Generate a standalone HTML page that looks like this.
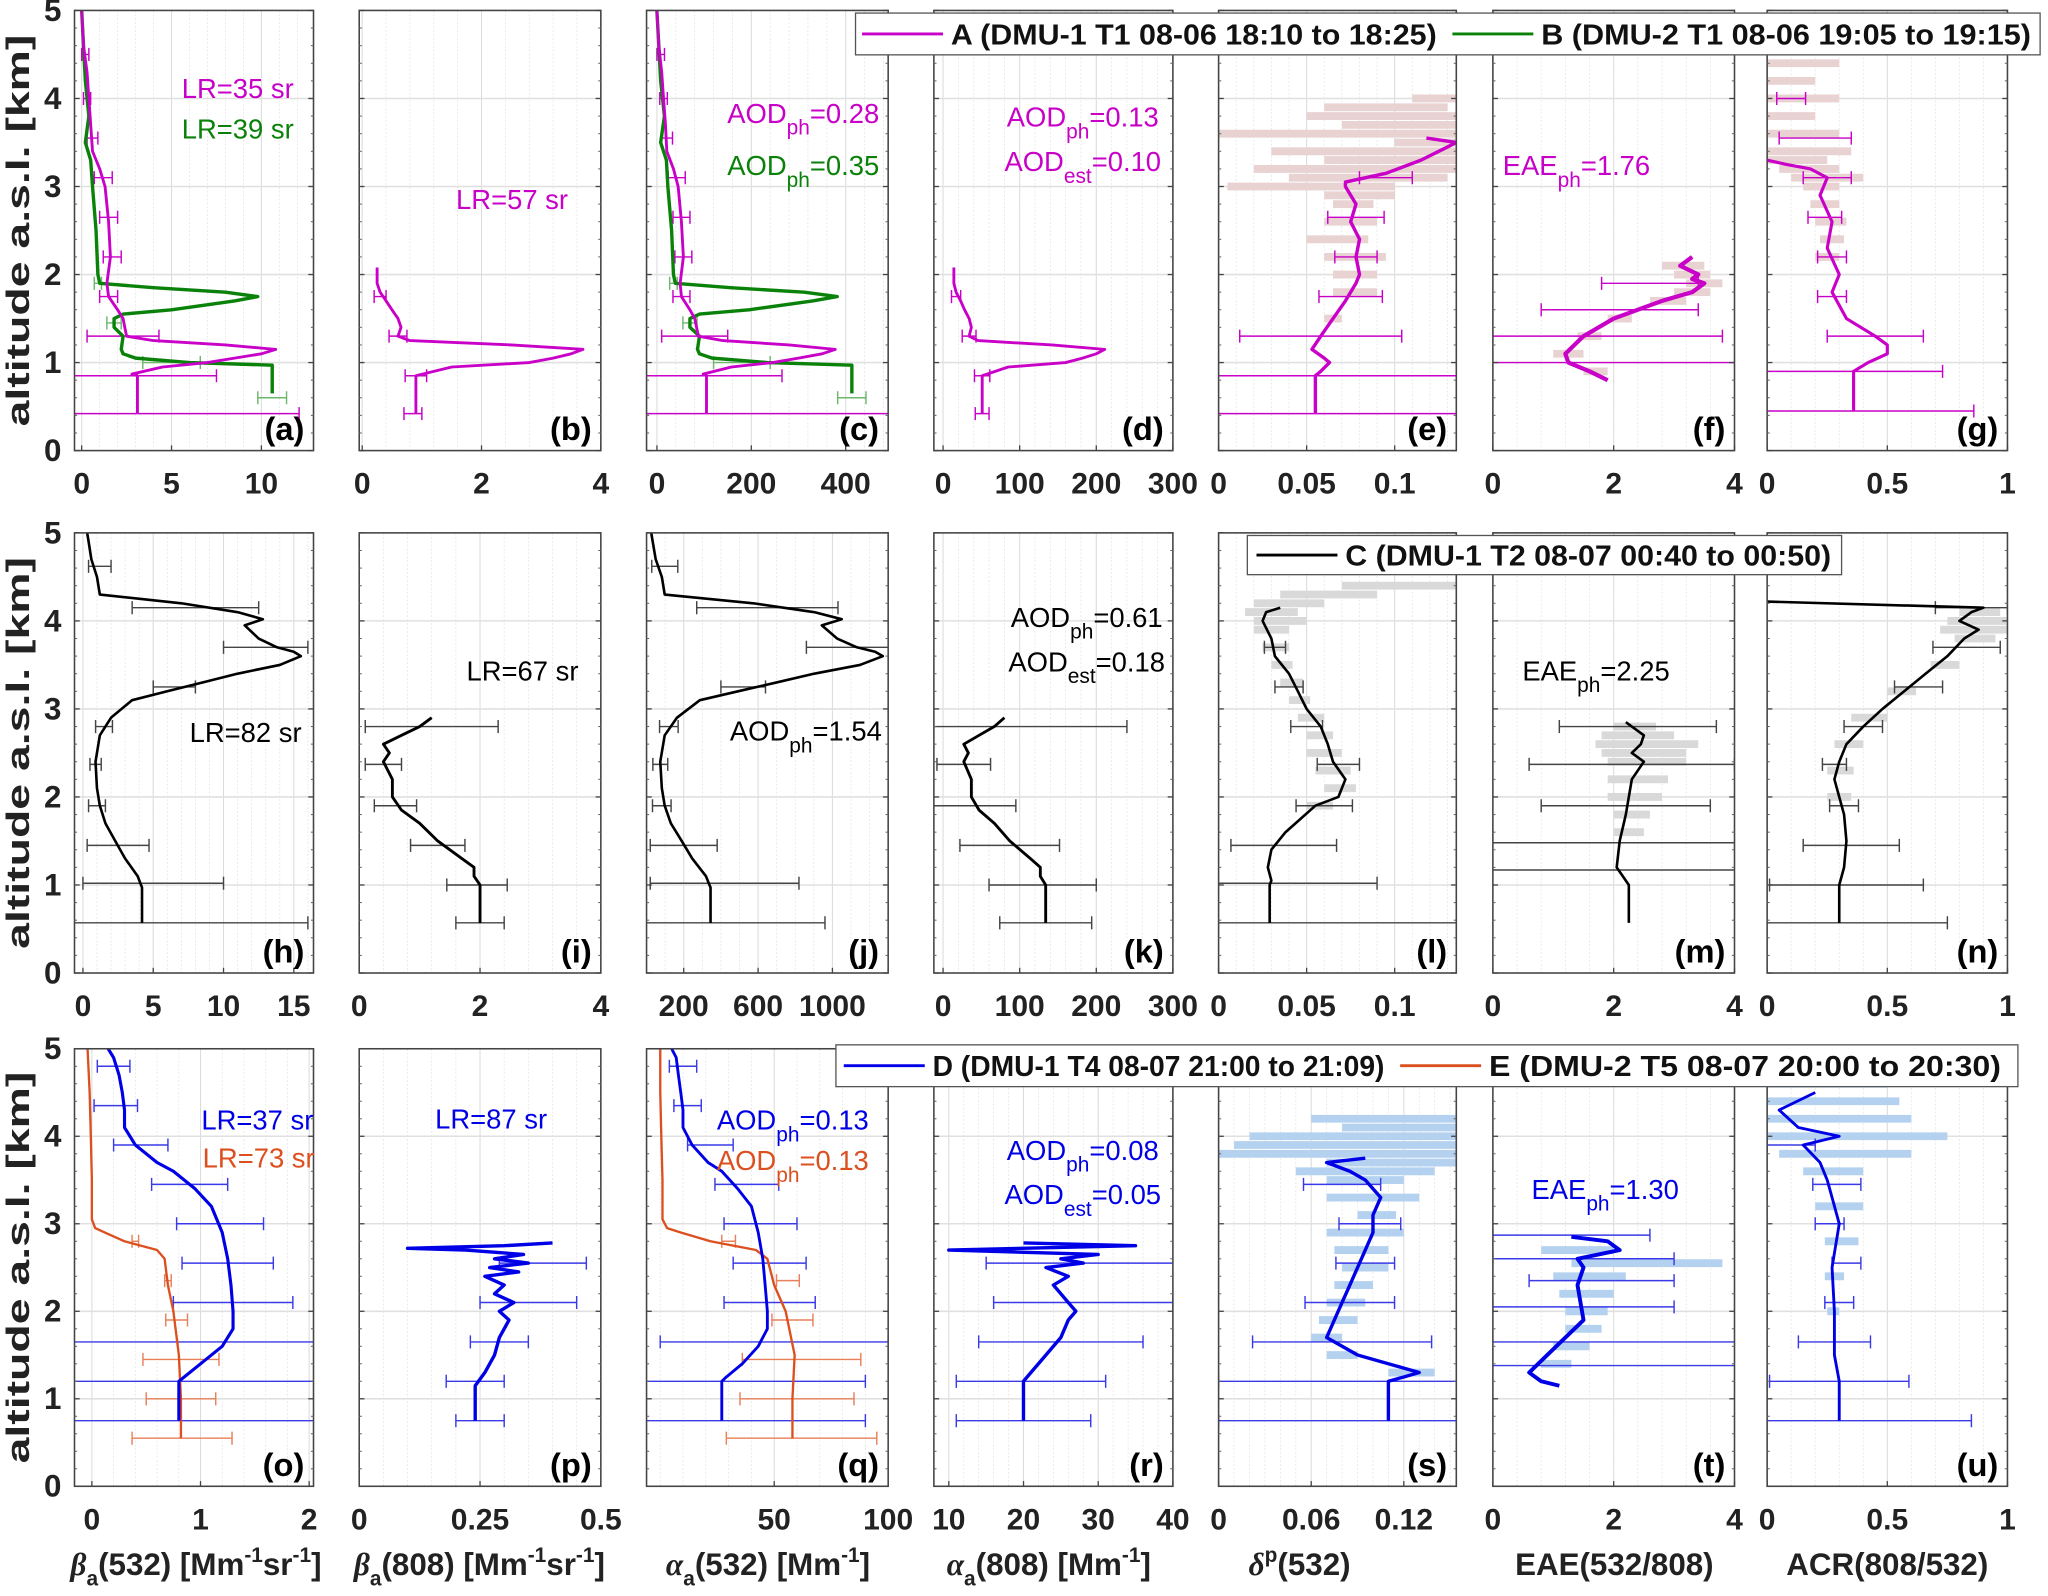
<!DOCTYPE html>
<html><head><meta charset="utf-8"><title>Lidar profiles</title>
<style>
html,body{margin:0;padding:0;background:#fff;}
svg{display:block;font-family:"Liberation Sans Narrow","Liberation Sans",Arial,sans-serif;}
</style></head>
<body>
<svg id="fig" width="2048" height="1596" viewBox="0 0 1568 1222" xmlns="http://www.w3.org/2000/svg">
<rect width="1568" height="1222" fill="#fff"/>
<g id="layer"></g>
</svg>
<script>
// ---------------- DATA ----------------
// Row 1: A (magenta) and B (green)
const A_a_alt=[0.42,0.85,0.87,0.95,1.0,1.05,1.1,1.15,1.2,1.25,1.3,1.4,1.5,1.6,1.75,1.9,2.2,2.6,3.0,3.2,3.4,3.7,4.0,4.3,4.6,5.0];
const A_a_val=[3.1,3.1,2.8,4.5,7,8.5,10,10.8,8,4,2.5,2.4,2.3,2.0,1.5,1.4,1.6,1.5,1.3,1.0,0.6,0.5,0.4,0.3,0.1,0.0];
const B_a_alt=[0.65,0.97,1.0,1.05,1.1,1.15,1.3,1.4,1.5,1.55,1.6,1.7,1.75,1.8,1.85,1.9,2.0,2.5,3.0,3.3,3.5,3.8,4.2,4.6,5.0];
const B_a_val=[10.6,10.6,6,3,2.3,2.2,2.3,1.8,1.8,2.3,5,8.5,9.8,8,4,1.0,0.9,0.8,0.6,0.5,0.2,0.4,0.2,0.1,0.0];
const A_b_alt=[0.42,0.85,0.95,1.0,1.05,1.1,1.15,1.2,1.25,1.3,1.4,1.5,1.6,1.7,1.8,1.9,2.0,2.08];
const A_b_val=[0.9,0.9,1.5,2.8,3.2,3.5,3.7,2.5,0.8,0.6,0.65,0.6,0.5,0.4,0.3,0.25,0.25,0.25];
const A_c_alt=A_a_alt;
const A_c_val=[105,105,98,158,245,300,350,378,280,140,88,84,80,70,52,49,56,52,45,35,21,18,14,10,4,0];
const B_c_alt=B_a_alt;
const B_c_val=[413,413,234,117,90,86,90,70,70,90,195,330,382,312,156,39,35,31,23,20,8,16,8,4,0];
const A_d_alt=A_b_alt;
const A_d_val=[51,51,85,160,182,200,211,142,46,34,37,34,28,23,17,14,14,14];
const A_e_alt=[0.42,0.85,0.9,1.0,1.05,1.15,1.3,1.5,1.7,1.9,2.0,2.2,2.4,2.6,2.8,3.0,3.05,3.15,3.3,3.45,3.5,3.55];
const A_e_val=[0.055,0.055,0.058,0.063,0.06,0.053,0.058,0.065,0.072,0.078,0.08,0.078,0.08,0.075,0.078,0.072,0.072,0.095,0.115,0.13,0.135,0.118];
const A_f_alt=[0.8,0.9,1.0,1.1,1.3,1.5,1.7,1.8,1.9,1.95,2.0,2.1,2.2];
const A_f_val=[1.9,1.6,1.25,1.2,1.5,2.0,2.8,3.3,3.5,3.3,3.4,3.1,3.3];
const A_g_alt=[0.45,0.9,1.0,1.1,1.2,1.3,1.5,1.8,2.0,2.3,2.6,2.9,3.1,3.2,3.25,3.3];
const A_g_val=[0.36,0.36,0.42,0.5,0.5,0.45,0.33,0.27,0.3,0.25,0.27,0.22,0.25,0.18,0.08,0.0];
// Row 2: C (black)
const C_h_alt=[0.57,0.97,1.1,1.3,1.5,1.7,1.9,2.1,2.4,2.7,2.9,3.1,3.2,3.3,3.4,3.5,3.6,3.65,3.7,3.8,3.95,4.02,4.1,4.2,4.3,4.5,4.7,4.9,5];
const C_h_val=[4.2,4.2,3.9,3.0,2.3,1.6,1.2,1.0,0.9,1.2,2.0,3.5,6,8.5,11,14,15.5,15,13.8,12.5,11.5,12.8,11,7,1.2,1.0,0.6,0.4,0.3];
const C_i_alt=[0.57,1.0,1.1,1.2,1.3,1.5,1.7,1.85,2.0,2.2,2.4,2.5,2.6,2.7,2.8,2.9];
const C_i_val=[2.0,2.0,1.9,1.9,1.7,1.3,1.0,0.7,0.55,0.55,0.4,0.5,0.4,0.7,1.0,1.2];
const C_j_alt=C_h_alt;
const C_j_val=[344,344,320,246,189,131,98,82,74,98,164,287,492,697,902,1148,1271,1230,1131,1025,943,1050,902,574,98,82,49,33,25];
const C_k_alt=C_i_alt;
const C_k_val=[134,134,127,127,114,87,67,47,37,37,27,33,27,47,67,80];
const C_l_alt=[0.57,1.0,1.05,1.2,1.4,1.6,1.9,2.0,2.2,2.4,2.6,2.8,3.0,3.2,3.4,3.6,3.8,4.0,4.1,4.15];
const C_l_val=[0.029,0.029,0.03,0.028,0.03,0.038,0.055,0.068,0.072,0.065,0.062,0.058,0.05,0.045,0.04,0.032,0.03,0.025,0.027,0.035];
const C_m_alt=[0.57,1.0,1.2,1.5,1.8,2.0,2.2,2.4,2.5,2.6,2.7,2.8,2.85];
const C_m_val=[2.25,2.25,2.05,2.1,2.2,2.25,2.3,2.5,2.3,2.45,2.5,2.3,2.2];
const C_n_alt=[0.57,1.0,1.2,1.5,1.8,2.0,2.2,2.4,2.6,2.8,3.0,3.2,3.4,3.6,3.8,3.9,4.0,4.1,4.15,4.22];
const C_n_val=[0.3,0.3,0.32,0.33,0.32,0.3,0.28,0.3,0.33,0.4,0.48,0.57,0.66,0.75,0.82,0.88,0.8,0.85,0.9,0.0];
// Row 3: D (blue) and E (orange)
const D_o_alt=[0.75,1.2,1.25,1.4,1.6,1.8,2.0,2.3,2.6,2.9,3.2,3.4,3.6,3.7,3.9,4.1,4.3,4.5,4.7,4.9,5.0];
const D_o_val=[0.8,0.8,0.85,1.0,1.2,1.3,1.3,1.28,1.25,1.2,1.1,0.95,0.75,0.6,0.4,0.3,0.3,0.28,0.25,0.2,0.15];
const E_o_alt=[0.55,1.0,1.5,2.0,2.3,2.6,2.7,2.8,2.9,2.95,3.05,3.5,4.0,4.5,5.0];
const E_o_val=[0.82,0.82,0.8,0.75,0.7,0.67,0.6,0.3,0.12,0.03,0.0,0.0,-0.01,-0.02,-0.04];
const D_p_alt=[0.75,1.15,1.3,1.5,1.7,1.9,2.0,2.1,2.2,2.3,2.4,2.45,2.5,2.55,2.6,2.65,2.7,2.72,2.75,2.78];
const D_p_val=[0.24,0.24,0.26,0.28,0.29,0.31,0.29,0.32,0.28,0.30,0.26,0.33,0.27,0.35,0.28,0.34,0.22,0.10,0.30,0.40];
const D_q_alt=D_o_alt;
const D_q_val=[27,27,29,36,43,47,47,46,45,43,40,34,27,21,14,10,10,9,8,7,5];
const E_q_alt=E_o_alt;
const E_q_val=[58,58,59,55,50,47,42,22,9,3,1,1,0.5,0,0];
const D_r_alt=[0.75,1.2,1.3,1.5,1.7,1.9,2.0,2.1,2.2,2.3,2.4,2.5,2.55,2.6,2.65,2.7,2.75,2.78];
const D_r_val=[20,20,21,23,25,26,27,26,25,24,26,23,28,25,30,10,35,20];
const D_s_alt=[0.75,1.2,1.25,1.3,1.35,1.5,1.7,1.9,2.1,2.3,2.5,2.7,2.9,3.1,3.3,3.5,3.6,3.7,3.75];
const D_s_val=[0.11,0.11,0.12,0.13,0.12,0.09,0.07,0.075,0.08,0.085,0.09,0.095,0.1,0.1,0.105,0.095,0.085,0.07,0.095];
const D_t_alt=[1.15,1.2,1.3,1.5,1.7,1.9,2.1,2.3,2.5,2.6,2.7,2.8,2.85];
const D_t_val=[1.1,0.8,0.6,0.9,1.2,1.5,1.45,1.4,1.5,1.4,2.1,1.9,1.3];
const D_u_alt=[0.75,1.2,1.5,2.0,2.5,3.0,3.3,3.5,3.7,3.9,4.0,4.1,4.3,4.5];
const D_u_val=[0.3,0.3,0.28,0.28,0.27,0.3,0.27,0.25,0.22,0.15,0.3,0.13,0.05,0.2];

// Error bars: altitude, centre, half-width
const EB_a_A_alt=[0.42,0.85,1.3,1.75,2.2,2.65,3.1,3.55,4.0,4.5];
const EB_a_A_c=[3.1,3.0,2.3,1.5,1.7,1.5,1.2,0.6,0.3,0.2];
const EB_a_A_h=[9,4.5,2.0,0.5,0.5,0.5,0.5,0.3,0.2,0.2];
const EB_a_B_alt=[0.6,1.0,1.45,1.9];
const EB_a_B_c=[10.6,5.0,1.8,0.9];
const EB_a_B_h=[0.8,1.6,0.4,0.2];
const EB_b_A_alt=[0.42,0.85,1.3,1.75];
const EB_b_A_c=[0.85,0.9,0.6,0.3];
const EB_b_A_h=[0.15,0.18,0.15,0.1];
const EB_c_A_alt=[0.42,0.85,1.3,1.75,2.2,2.65,3.1,3.55,4.0,4.5];
const EB_c_A_c=[105,105,80,52,56,52,42,21,14,8];
const EB_c_A_h=[400,160,70,18,18,18,18,12,8,8];
const EB_c_B_alt=[0.6,1.0,1.45,1.9];
const EB_c_B_c=[413,180,70,35];
const EB_c_B_h=[30,60,15,8];
const EB_d_A_alt=[0.42,0.85,1.3,1.75];
const EB_d_A_c=[51,51,34,17];
const EB_d_A_h=[9,10,9,6];
const EB_e_A_alt=[0.42,0.85,1.3,1.75,2.2,2.65,3.1];
const EB_e_A_c=[0.055,0.055,0.058,0.075,0.078,0.078,0.095];
const EB_e_A_h=[0.1,0.1,0.046,0.018,0.012,0.016,0.015];
const EB_f_A_alt=[1.0,1.3,1.6,1.9];
const EB_f_A_c=[1.2,1.9,2.1,2.6];
const EB_f_A_h=[3,1.9,1.3,0.8];
const EB_g_A_alt=[0.45,0.9,1.3,1.75,2.2,2.65,3.1,3.55,4.0];
const EB_g_A_c=[0.36,0.36,0.45,0.27,0.27,0.24,0.25,0.2,0.1];
const EB_g_A_h=[0.5,0.37,0.2,0.06,0.06,0.07,0.1,0.15,0.06];
const EB_h_alt=[0.57,1.02,1.45,1.9,2.37,2.8,3.25,3.7,4.15,4.62];
const EB_h_c=[5,5,2.5,1.0,0.9,1.5,6.5,13,8,1.2];
const EB_h_h=[11,5,2.2,0.6,0.4,0.6,1.5,3,4.5,0.8];
const EB_i_alt=[0.57,1.0,1.45,1.9,2.37,2.8];
const EB_i_c=[2.0,1.95,1.3,0.6,0.4,1.2];
const EB_i_h=[0.4,0.5,0.45,0.35,0.3,1.1];
const EB_j_alt=EB_h_alt;
const EB_j_c=[420,420,200,82,74,120,520,1100,650,98];
const EB_j_h=[540,400,180,50,40,50,120,240,380,70];
const EB_k_alt=EB_i_alt;
const EB_k_c=[134,130,87,40,27,80];
const EB_k_h=[60,70,65,55,35,160];
const EB_l_alt=[0.57,1.02,1.45,1.9,2.37,2.8,3.25,3.7];
const EB_l_c=[0.04,0.04,0.037,0.06,0.068,0.05,0.04,0.032];
const EB_l_h=[0.1,0.05,0.03,0.016,0.012,0.009,0.008,0.006];
const EB_m_alt=[1.17,1.48,1.9,2.37,2.8];
const EB_m_c=[2.2,2.1,2.2,2.3,2.4];
const EB_m_h=[3,3,1.4,1.7,1.3];
const EB_n_alt=[0.57,1.0,1.45,1.9,2.37,2.8,3.25,3.7,4.15];
const EB_n_c=[0.35,0.33,0.35,0.32,0.28,0.4,0.63,0.83,0.85];
const EB_n_h=[0.4,0.32,0.2,0.06,0.05,0.08,0.1,0.14,0.15];
const EB_o_D_alt=[0.75,1.2,1.65,2.1,2.55,3.0,3.45,3.9,4.35,4.8];
const EB_o_D_c=[0.8,0.8,0.8,1.3,1.25,1.18,0.9,0.45,0.22,0.2];
const EB_o_D_h=[1.3,1.3,1.5,0.55,0.42,0.4,0.35,0.25,0.2,0.15];
const EB_o_E_alt=[0.55,1.0,1.45,1.9,2.35,2.8];
const EB_o_E_c=[0.83,0.82,0.82,0.78,0.7,0.4];
const EB_o_E_h=[0.46,0.32,0.35,0.1,0.03,0.03];
const EB_p_D_alt=[0.75,1.2,1.65,2.1,2.55];
const EB_p_D_c=[0.25,0.24,0.29,0.35,0.38];
const EB_p_D_h=[0.05,0.06,0.06,0.1,0.09];
const EB_q_D_alt=EB_o_D_alt;
const EB_q_D_c=[30,30,50,48,48,44,38,22,12,10];
const EB_q_D_h=[60,60,50,20,16,16,14,10,6,6];
const EB_q_E_alt=[0.55,1.0,1.45,1.9,2.35,2.8];
const EB_q_E_c=[62,60,62,58,56,30];
const EB_q_E_h=[33,25,26,9,5,3];
const EB_r_D_alt=[0.75,1.2,1.65,2.1,2.55];
const EB_r_D_c=[20,21,25,28,29];
const EB_r_D_h=[9,10,11,12,14];
const EB_s_D_alt=[0.75,1.2,1.65,2.1,2.55,3.0,3.45];
const EB_s_D_c=[0.1,0.1,0.08,0.085,0.095,0.098,0.08];
const EB_s_D_h=[0.1,0.1,0.058,0.029,0.019,0.02,0.025];
const EB_t_D_alt=[1.38,1.65,2.05,2.35,2.6,2.87];
const EB_t_D_c=[2.0,2.0,1.5,1.8,1.5,1.3];
const EB_t_D_h=[2.5,2.5,1.5,1.2,1.5,1.3];
const EB_u_D_alt=[0.75,1.2,1.65,2.1,2.55,3.0,3.45,3.9];
const EB_u_D_c=[0.35,0.3,0.28,0.3,0.33,0.26,0.29,0.1];
const EB_u_D_h=[0.5,0.29,0.15,0.06,0.06,0.06,0.1,0.1];

// Uncertainty shading: altitude, low, high
const SH_e_alt=[1.5,1.8,2.0,2.2,2.4,2.6,2.8,2.9,3.0,3.1,3.2,3.3,3.4,3.5,3.6,3.7,3.8,3.9,4.0];
const SH_e_lo=[0.06,0.065,0.065,0.06,0.05,0.06,0.065,0.06,0.005,0.04,0.02,0.06,0.03,0.1,0.0,0.07,0.05,0.06,0.11];
const SH_e_hi=[0.07,0.09,0.09,0.095,0.085,0.09,0.088,0.1,0.1,0.13,0.135,0.135,0.135,0.135,0.135,0.135,0.135,0.13,0.135];
const SH_f_alt=[0.9,1.1,1.3,1.5,1.7,1.8,1.9,2.0,2.1];
const SH_f_lo=[1.5,1.0,1.4,1.9,2.6,3.0,3.2,3.0,2.8];
const SH_f_hi=[1.9,1.5,1.8,2.3,3.2,3.6,3.8,3.6,3.5];
const SH_g_alt=[2.2,2.4,2.6,2.8,3.0,3.1,3.2,3.3,3.4,3.6,3.8,4.0,4.2,4.4,4.6,4.8];
const SH_g_lo=[0.2,0.22,0.2,0.18,0.15,0.1,0.05,0.0,0.0,0.0,0.0,0.0,0.0,0.0,0.0,0.05];
const SH_g_hi=[0.3,0.32,0.33,0.3,0.3,0.4,0.3,0.25,0.35,0.3,0.2,0.3,0.2,0.3,0.15,0.15];
const SH_l_alt=[1.9,2.1,2.3,2.5,2.7,2.9,3.1,3.3,3.5,3.7,3.9,4.0,4.1,4.2,4.3,4.4];
const SH_l_lo=[0.05,0.06,0.055,0.05,0.05,0.045,0.04,0.035,0.03,0.025,0.02,0.02,0.015,0.02,0.035,0.07];
const SH_l_hi=[0.065,0.078,0.075,0.07,0.065,0.06,0.052,0.048,0.042,0.04,0.04,0.05,0.045,0.06,0.09,0.135];
const SH_m_alt=[1.6,1.8,2.0,2.2,2.4,2.5,2.6,2.7,2.8];
const SH_m_lo=[2.0,2.0,1.9,1.9,1.9,1.8,1.7,1.8,2.0];
const SH_m_hi=[2.5,2.6,2.8,2.9,3.2,3.2,3.4,3.0,2.7];
const SH_n_alt=[2.0,2.3,2.6,2.9,3.2,3.5,3.8,3.9,4.0,4.1];
const SH_n_lo=[0.25,0.25,0.28,0.35,0.5,0.68,0.78,0.72,0.75,0.8];
const SH_n_hi=[0.35,0.36,0.4,0.5,0.62,0.8,0.95,1.0,1.0,0.97];
const SH_s_alt=[1.3,1.5,1.7,1.9,2.1,2.3,2.5,2.7,2.9,3.1,3.3,3.5,3.6,3.7,3.8,3.9,4.0,4.1,4.2];
const SH_s_lo=[0.11,0.07,0.06,0.065,0.07,0.075,0.08,0.075,0.07,0.09,0.07,0.07,0.05,0.07,0.0,0.01,0.02,0.08,0.06];
const SH_s_hi=[0.14,0.09,0.08,0.09,0.095,0.1,0.11,0.11,0.12,0.115,0.13,0.12,0.14,0.154,0.154,0.154,0.154,0.154,0.154];
const SH_t_alt=[1.4,1.6,1.8,2.0,2.2,2.4,2.55,2.7];
const SH_t_lo=[0.8,1.0,1.2,1.2,1.1,1.0,1.3,0.8];
const SH_t_hi=[1.3,1.6,1.8,1.9,2.0,2.2,3.8,2.0];
const SH_u_alt=[2.0,2.4,2.8,3.2,3.6,3.8,4.0,4.2,4.4,4.6];
const SH_u_lo=[0.25,0.24,0.24,0.2,0.15,0.05,0.0,0.0,0.0,0.0];
const SH_u_hi=[0.3,0.32,0.38,0.4,0.4,0.6,0.75,0.6,0.55,0.5];

// Axis tick values/labels
const TICKS={a:[0,5,10],b:[0,2,4],c:[0,200,400],d:[0,100,200,300],e:[0,0.05,0.1],f:[0,2,4],g:[0,0.5,1],
 h:[0,5,10,15],i:[0,2,4],j:[200,600,1000],k:[0,100,200,300],l:[0,0.05,0.1],m:[0,2,4],n:[0,0.5,1],
 o:[0,1,2],p:[0,0.25,0.5],q:[50,100],r:[10,20,30,40],s:[0,0.06,0.12],t:[0,2,4],u:[0,0.5,1]};
const TICKLABELS={a:['0','5','10'],b:['0','2','4'],c:['0','200','400'],d:['0','100','200','300'],e:['0','0.05','0.1'],f:['0','2','4'],g:['0','0.5','1'],
 h:['0','5','10','15'],i:['0','2','4'],j:['200','600','1000'],k:['0','100','200','300'],l:['0','0.05','0.1'],m:['0','2','4'],n:['0','0.5','1'],
 o:['0','1','2'],p:['0','0.25','0.5'],q:['50','100'],r:['10','20','30','40'],s:['0','0.06','0.12'],t:['0','2','4'],u:['0','0.5','1']};
const YTICKS=[0,1,2,3,4,5];

// ---------------- LAYOUT ----------------
const COLS=[[57,240],[275,460],[495,680],[715,898],[933,1115],[1143,1328],[1353,1537]];
const ROWS=[[8,345],[408,745],[803,1138]];
const RANGES={a:[-0.4,12.9],b:[-0.05,4],c:[-22,490],d:[-12,300],e:[0,0.135],f:[0,4],g:[0,1],
 h:[-0.6,16.4],i:[0,4],j:[0,1300],k:[-12,300],l:[0,0.135],m:[0,4],n:[0,1],
 o:[-0.16,2.04],p:[0,0.5],q:[-6,100],r:[8,40],s:[0,0.154],t:[0,4],u:[0,1]};
const MINOR={a:1,b:0.4,c:40,d:20,e:0.01,f:0.4,g:0.1,h:1,i:0.4,j:100,k:20,l:0.01,m:0.4,n:0.1,o:0.2,p:0.05,q:10,r:2,s:0.01,t:0.4,u:0.1};
const IDS='abcdefghijklmnopqrstu'.split('');
const MAG='#c800c8',GRN='#0a820a',BLK='#000',BLU='#0000e6',ORG='#dc5020';
const NS='http://www.w3.org/2000/svg';
const layer=document.getElementById('layer');
function el(tag,attrs,parent){const e=document.createElementNS(NS,tag);for(const k in attrs)e.setAttribute(k,attrs[k]);(parent||layer).appendChild(e);return e;}
function geo(id){const i=IDS.indexOf(id);const c=COLS[i%7],r=ROWS[Math.floor(i/7)];return {x0:c[0],x1:c[1],y0:r[0],y1:r[1]};}
function xs(id,v){const g=geo(id),R=RANGES[id];return g.x0+(v-R[0])/(R[1]-R[0])*(g.x1-g.x0);}
function ys(id,a){const g=geo(id);return g.y1-a/5*(g.y1-g.y0);}

const defs=el('defs',{});
const panelG={};
IDS.forEach((id,idx)=>{
  const g=geo(id);
  const cp=el('clipPath',{id:'clip-'+id},defs);
  el('rect',{x:g.x0,y:g.y0,width:g.x1-g.x0,height:g.y1-g.y0},cp);
  const pg=el('g',{});
  
  
  // minor vertical grid
  const R=RANGES[id],m=MINOR[id];
  for(let v=Math.ceil(R[0]/m)*m;v<=R[1]+1e-9;v+=m){
    const x=xs(id,v);
    el('line',{x1:x,x2:x,y1:g.y0,y2:g.y1,stroke:'#e4e4e4','stroke-width':0.6,'stroke-dasharray':'1.5,1.5'},pg);
  }
  TICKS[id].forEach(v=>{const x=xs(id,v);el('line',{x1:x,x2:x,y1:g.y0,y2:g.y1,stroke:'#dcdcdc','stroke-width':0.8},pg);});
  YTICKS.forEach(a=>{if(a>0&&a<5){const y=ys(id,a);el('line',{x1:g.x0,x2:g.x1,y1:y,y2:y,stroke:'#e0e0e0','stroke-width':1.2},pg);}});
  const data=el('g',{'clip-path':'url(#clip-'+id+')'},pg);
  
  
  panelG[id]=data;
  // frame and ticks
  el('rect',{x:g.x0,y:g.y0,width:g.x1-g.x0,height:g.y1-g.y0,fill:'none',stroke:'#444','stroke-width':1.2},pg);
  YTICKS.forEach(a=>{const y=ys(id,a);
    el('line',{x1:g.x0,x2:g.x0+4,y1:y,y2:y,stroke:'#444','stroke-width':1},pg);
    el('line',{x1:g.x1-4,x2:g.x1,y1:y,y2:y,stroke:'#444','stroke-width':1},pg);
    for(let k=1;k<5;k++){const yy=ys(id,a+k*0.2);if(a<5){el('line',{x1:g.x0,x2:g.x0+2,y1:yy,y2:yy,stroke:'#666','stroke-width':0.8},pg);el('line',{x1:g.x1-2,x2:g.x1,y1:yy,y2:yy,stroke:'#666','stroke-width':0.8},pg);}}
  });
  const xg=el('g',{},pg);
  
  
  TICKS[id].forEach((v,k)=>{
    const x=xs(id,v);
    el('line',{x1:x,x2:x,y1:g.y1,y2:g.y1-4,stroke:'#444','stroke-width':1},xg);
    const t=el('text',{x:x,y:g.y1+33,'text-anchor':'middle','font-size':23,'font-weight':'bold',fill:'#222'},xg);
    t.textContent=TICKLABELS[id][k];
  });
  if(idx%7===0){
    const yg=el('g',{},pg);
    
    
    YTICKS.forEach(a=>{const t=el('text',{x:g.x0-10,y:ys(id,a)+8,'text-anchor':'end','font-size':24,'font-weight':'bold',fill:'#222'},yg);t.textContent=String(a);});
    const yl=el('text',{x:0,y:0,transform:'translate(22,'+((g.y0+g.y1)/2)+') rotate(-90)','text-anchor':'middle','font-size':25,'font-weight':'bold',fill:'#222',textLength:300,lengthAdjust:'spacingAndGlyphs'},pg);
    
    
    yl.textContent='altitude a.s.l. [km]';
  }
  const lab=el('text',{x:g.x1-7,y:g.y1-8,'text-anchor':'end','font-size':25,'font-weight':'bold',fill:'#000'},pg);
  
  
  lab.textContent='('+id+')';
});

function shade(id,alt,lo,hi,color,name){
  const g=el('g',{},panelG[id]);
  
  
  alt.forEach((a,k)=>{const y=ys(id,a);el('line',{x1:xs(id,lo[k]),x2:xs(id,hi[k]),y1:y,y2:y,stroke:color,'stroke-width':6},g);});
}
function profile(id,alt,val,color,w,name){
  const p=el('polyline',{points:alt.map((a,k)=>xs(id,val[k]).toFixed(1)+','+ys(id,a).toFixed(1)).join(' '),fill:'none',stroke:color,'stroke-width':w,'stroke-linejoin':'round'},panelG[id]);
  
  
}
function errbars(id,alt,c,h,color,name){
  const g=el('g',{stroke:color,'stroke-width':1.1},panelG[id]);
  
  
  alt.forEach((a,k)=>{const y=ys(id,a),l=xs(id,c[k]-h[k]),r=xs(id,c[k]+h[k]);
    el('line',{x1:l,x2:r,y1:y,y2:y},g);
    el('line',{x1:l,x2:l,y1:y-5,y2:y+5},g);
    el('line',{x1:r,x2:r,y1:y-5,y2:y+5},g);});
}
const PINK='#e8d2d2',GRAY='#d9d9d9',LBLU='#b4d2f0';
shade('e',SH_e_alt,SH_e_lo,SH_e_hi,PINK,'shade-e');
shade('f',SH_f_alt,SH_f_lo,SH_f_hi,PINK,'shade-f');
shade('g',SH_g_alt,SH_g_lo,SH_g_hi,PINK,'shade-g');
shade('l',SH_l_alt,SH_l_lo,SH_l_hi,GRAY,'shade-l');
shade('m',SH_m_alt,SH_m_lo,SH_m_hi,GRAY,'shade-m');
shade('n',SH_n_alt,SH_n_lo,SH_n_hi,GRAY,'shade-n');
shade('s',SH_s_alt,SH_s_lo,SH_s_hi,LBLU,'shade-s');
shade('t',SH_t_alt,SH_t_lo,SH_t_hi,LBLU,'shade-t');
shade('u',SH_u_alt,SH_u_lo,SH_u_hi,LBLU,'shade-u');

errbars('a',EB_a_B_alt,EB_a_B_c,EB_a_B_h,'#6cb86c','errorbars-a-B');
errbars('a',EB_a_A_alt,EB_a_A_c,EB_a_A_h,MAG,'errorbars-a-A');
errbars('b',EB_b_A_alt,EB_b_A_c,EB_b_A_h,MAG,'errorbars-b-A');
errbars('c',EB_c_B_alt,EB_c_B_c,EB_c_B_h,'#6cb86c','errorbars-c-B');
errbars('c',EB_c_A_alt,EB_c_A_c,EB_c_A_h,MAG,'errorbars-c-A');
errbars('d',EB_d_A_alt,EB_d_A_c,EB_d_A_h,MAG,'errorbars-d-A');
errbars('e',EB_e_A_alt,EB_e_A_c,EB_e_A_h,MAG,'errorbars-e-A');
errbars('f',EB_f_A_alt,EB_f_A_c,EB_f_A_h,MAG,'errorbars-f-A');
errbars('g',EB_g_A_alt,EB_g_A_c,EB_g_A_h,MAG,'errorbars-g-A');
errbars('h',EB_h_alt,EB_h_c,EB_h_h,'#444','errorbars-h-C');
errbars('i',EB_i_alt,EB_i_c,EB_i_h,'#444','errorbars-i-C');
errbars('j',EB_j_alt,EB_j_c,EB_j_h,'#444','errorbars-j-C');
errbars('k',EB_k_alt,EB_k_c,EB_k_h,'#444','errorbars-k-C');
errbars('l',EB_l_alt,EB_l_c,EB_l_h,'#444','errorbars-l-C');
errbars('m',EB_m_alt,EB_m_c,EB_m_h,'#444','errorbars-m-C');
errbars('n',EB_n_alt,EB_n_c,EB_n_h,'#444','errorbars-n-C');
errbars('o',EB_o_E_alt,EB_o_E_c,EB_o_E_h,'#e8805a','errorbars-o-E');
errbars('o',EB_o_D_alt,EB_o_D_c,EB_o_D_h,'#3a3ae8','errorbars-o-D');
errbars('p',EB_p_D_alt,EB_p_D_c,EB_p_D_h,'#3a3ae8','errorbars-p-D');
errbars('q',EB_q_E_alt,EB_q_E_c,EB_q_E_h,'#e8805a','errorbars-q-E');
errbars('q',EB_q_D_alt,EB_q_D_c,EB_q_D_h,'#3a3ae8','errorbars-q-D');
errbars('r',EB_r_D_alt,EB_r_D_c,EB_r_D_h,'#3a3ae8','errorbars-r-D');
errbars('s',EB_s_D_alt,EB_s_D_c,EB_s_D_h,'#3a3ae8','errorbars-s-D');
errbars('t',EB_t_D_alt,EB_t_D_c,EB_t_D_h,'#3a3ae8','errorbars-t-D');
errbars('u',EB_u_D_alt,EB_u_D_c,EB_u_D_h,'#3a3ae8','errorbars-u-D');

profile('a',B_a_alt,B_a_val,GRN,2.6,'profile-a-B');
profile('a',A_a_alt,A_a_val,MAG,2.2,'profile-a-A');
profile('b',A_b_alt,A_b_val,MAG,2.2,'profile-b-A');
profile('c',B_c_alt,B_c_val,GRN,2.6,'profile-c-B');
profile('c',A_c_alt,A_c_val,MAG,2.2,'profile-c-A');
profile('d',A_d_alt,A_d_val,MAG,2.2,'profile-d-A');
profile('e',A_e_alt,A_e_val,MAG,2.6,'profile-e-A');
profile('f',A_f_alt,A_f_val,MAG,3.2,'profile-f-A');
profile('g',A_g_alt,A_g_val,MAG,2.4,'profile-g-A');
profile('h',C_h_alt,C_h_val,BLK,2,'profile-h-C');
profile('i',C_i_alt,C_i_val,BLK,2.2,'profile-i-C');
profile('j',C_j_alt,C_j_val,BLK,2,'profile-j-C');
profile('k',C_k_alt,C_k_val,BLK,2.2,'profile-k-C');
profile('l',C_l_alt,C_l_val,BLK,2,'profile-l-C');
profile('m',C_m_alt,C_m_val,BLK,2,'profile-m-C');
profile('n',C_n_alt,C_n_val,BLK,2,'profile-n-C');
profile('o',E_o_alt,E_o_val,ORG,1.8,'profile-o-E');
profile('o',D_o_alt,D_o_val,BLU,2.4,'profile-o-D');
profile('p',D_p_alt,D_p_val,BLU,2.6,'profile-p-D');
profile('q',E_q_alt,E_q_val,ORG,1.8,'profile-q-E');
profile('q',D_q_alt,D_q_val,BLU,2.2,'profile-q-D');
profile('r',D_r_alt,D_r_val,BLU,2.6,'profile-r-D');
profile('s',D_s_alt,D_s_val,BLU,2.6,'profile-s-D');
profile('t',D_t_alt,D_t_val,BLU,3,'profile-t-D');
profile('u',D_u_alt,D_u_val,BLU,2.2,'profile-u-D');

// ---------------- ANNOTATIONS ----------------
function ann(x,y,color,main,sub,rest,name){
  const t=el('text',{x:x,y:y,'text-anchor':'middle','font-size':21,fill:color});
  
  
  const a=el('tspan',{},t);a.textContent=main;
  if(sub){const s=el('tspan',{dy:9,'font-size':16},t);s.textContent=sub;const r=el('tspan',{dy:-9},t);r.textContent=rest;}
}
ann(182,75,MAG,'LR=35 sr','','', 'annotation-lr-a-A');
ann(182,106,GRN,'LR=39 sr','','', 'annotation-lr-a-B');
ann(392,160,MAG,'LR=57 sr','','', 'annotation-lr-b');
ann(615,94,MAG,'AOD','ph','=0.28','annotation-aod-c-A');
ann(615,134,GRN,'AOD','ph','=0.35','annotation-aod-c-B');
ann(829,97,MAG,'AOD','ph','=0.13','annotation-aod-d');
ann(829,131,MAG,'AOD','est','=0.10','annotation-aodest-d');
ann(1207,134,MAG,'EAE','ph','=1.76','annotation-eae-f');
ann(188,568,BLK,'LR=82 sr','','', 'annotation-lr-h');
ann(400,521,BLK,'LR=67 sr','','', 'annotation-lr-i');
ann(617,567,BLK,'AOD','ph','=1.54','annotation-aod-j');
ann(832,480,BLK,'AOD','ph','=0.61','annotation-aod-k');
ann(832,514,BLK,'AOD','est','=0.18','annotation-aodest-k');
ann(1222,521,BLK,'EAE','ph','=2.25','annotation-eae-m');
ann(197,865,BLU,'LR=37 sr','','', 'annotation-lr-o-D');
ann(198,894,ORG,'LR=73 sr','','', 'annotation-lr-o-E');
ann(376,864,BLU,'LR=87 sr','','', 'annotation-lr-p');
ann(607,865,BLU,'AOD','ph','=0.13','annotation-aod-q-D');
ann(607,896,ORG,'AOD','ph','=0.13','annotation-aod-q-E');
ann(829,888,BLU,'AOD','ph','=0.08','annotation-aod-r');
ann(829,922,BLU,'AOD','est','=0.05','annotation-aodest-r');
ann(1229,918,BLU,'EAE','ph','=1.30','annotation-eae-t');

// ---------------- X AXIS TITLES ----------------
function xtitle(x,parts,name){
  const t=el('text',{x:x,y:1206,'text-anchor':'middle','font-size':24,'font-weight':'bold',fill:'#222'});
  
  
  let dy=0;
  parts.forEach(p=>{const s=el('tspan',{},t);const d=p[1]-dy;if(d)s.setAttribute('dy',d);dy=p[1];if(p[1]!==0)s.setAttribute('font-size',16);if(p[2])s.setAttribute('font-family','"Liberation Serif",serif');if(p[2])s.setAttribute('font-style','italic');s.textContent=p[0];});
}
xtitle(150,[['β',0,1],['a',8],['(532) [Mm',0],['-1',-10],['sr',0],['-1',-10],[']',0]],'x-axis-title-beta532');
xtitle(367,[['β',0,1],['a',8],['(808) [Mm',0],['-1',-10],['sr',0],['-1',-10],[']',0]],'x-axis-title-beta808');
xtitle(588,[['α',0,1],['a',8],['(532) [Mm',0],['-1',-10],[']',0]],'x-axis-title-alpha532');
xtitle(803,[['α',0,1],['a',8],['(808) [Mm',0],['-1',-10],[']',0]],'x-axis-title-alpha808');
xtitle(995,[['δ',0,1],['p',-10],['(532)',0]],'x-axis-title-depol');
xtitle(1236,[['EAE(532/808)',0]],'x-axis-title-eae');
xtitle(1445,[['ACR(808/532)',0]],'x-axis-title-acr');

// ---------------- LEGENDS ----------------
function legend(x,y,w,h,items,name){
  const g=el('g',{});
  
  
  el('rect',{x:x,y:y,width:w,height:h,fill:'#fff',stroke:'#555','stroke-width':1},g);
  items.forEach(it=>{
    el('line',{x1:it[0],x2:it[0]+62,y1:y+h/2,y2:y+h/2,stroke:it[1],'stroke-width':2.2},g);
    const t=el('text',{x:it[0]+68,y:y+h/2+8,'font-size':22,'font-weight':'bold',fill:'#111',textLength:it[3],lengthAdjust:'spacingAndGlyphs'},g);
    t.textContent=it[2];
  });
}
legend(655,10,907,32,[[660,MAG,'A (DMU-1 T1 08-06 18:10 to 18:25)',372],[1112,GRN,'B (DMU-2 T1 08-06 19:05 to 19:15)',375]],'legend-row1');
legend(955,410,455,30,[[962,BLK,'C (DMU-1 T2 08-07 00:40 to 00:50)',372]],'legend-row2');
legend(640,800,905,32,[[646,BLU,'D (DMU-1 T4 08-07 21:00 to 21:09)',346],[1072,ORG,'E (DMU-2 T5 08-07 20:00 to 20:30)',392]],'legend-row3');
</script>
</body></html>
